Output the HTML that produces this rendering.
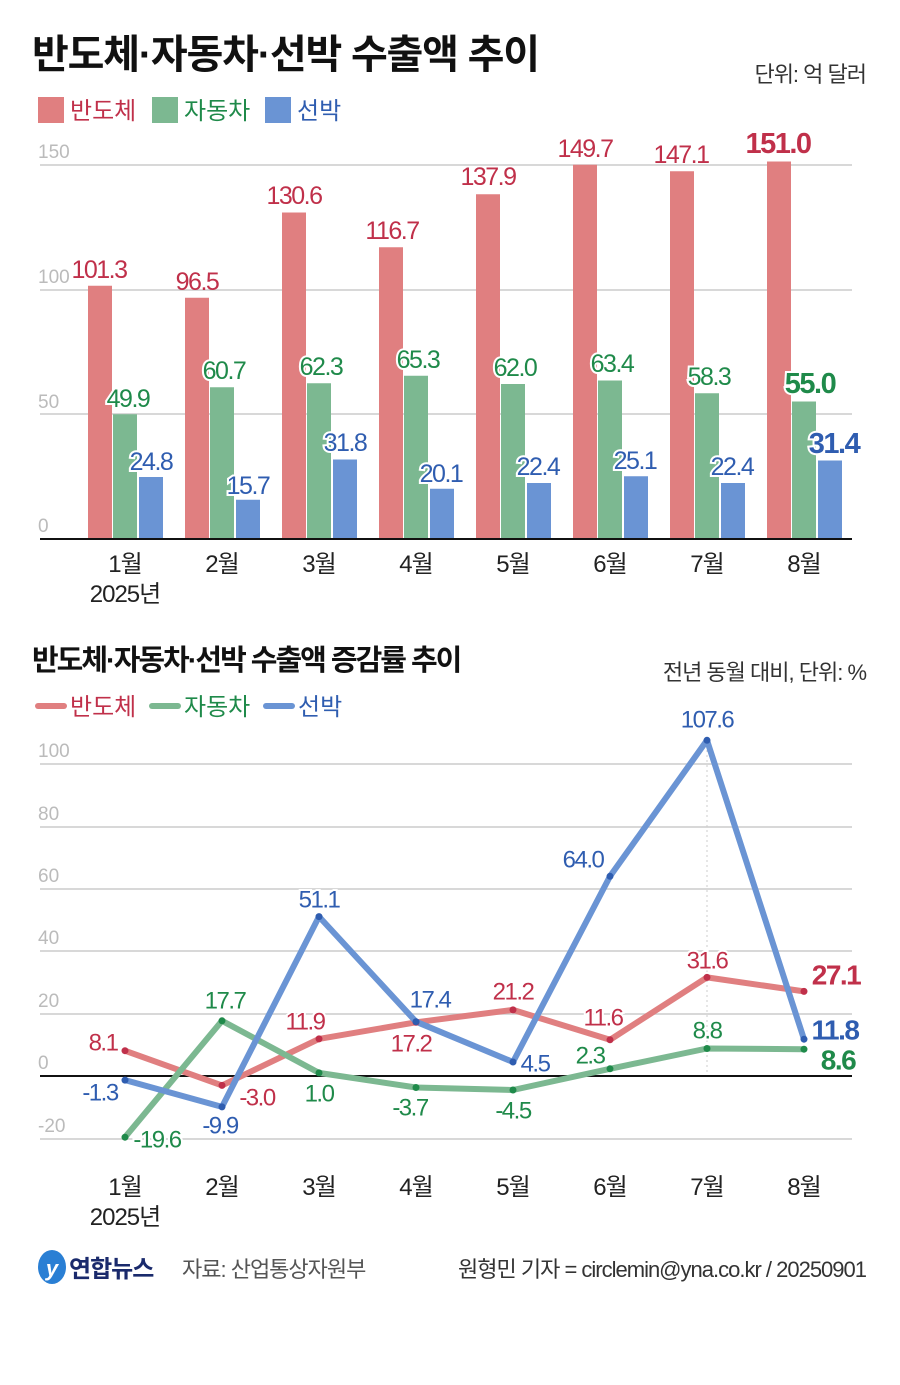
<!DOCTYPE html>
<html><head><meta charset="utf-8"><style>
body{margin:0;background:#fff;}
svg text{font-family:"Liberation Sans","Noto Sans CJK KR",sans-serif;}
</style></head><body>
<svg width="900" height="1380" viewBox="0 0 900 1380" xmlns="http://www.w3.org/2000/svg">
<text x="32" y="68" font-size="40" font-weight="bold" fill="#111" letter-spacing="-1.2">반도체·자동차·선박 수출액 추이</text>
<text x="866" y="82" font-size="22" fill="#333" text-anchor="end" letter-spacing="-1">단위: 억 달러</text>
<rect x="38" y="97" width="26" height="26" fill="#e07f80"/><text x="70" y="119" font-size="24" fill="#c0304a">반도체</text>
<rect x="152" y="97" width="26" height="26" fill="#7cb891"/><text x="184" y="119" font-size="24" fill="#1f8a4a">자동차</text>
<rect x="265" y="97" width="26" height="26" fill="#6a94d4"/><text x="297" y="119" font-size="24" fill="#2f5db0">선박</text>
<g stroke="#ccc" stroke-width="1.5"><line x1="40" y1="165" x2="852" y2="165"/><line x1="40" y1="290" x2="852" y2="290"/><line x1="40" y1="414" x2="852" y2="414"/></g>
<g font-size="19" fill="#bbb"><text x="38" y="158">150</text><text x="38" y="283">100</text><text x="38" y="408">50</text><text x="38" y="532">0</text></g>
<g fill="#e07f80"><rect x="88" y="285.75" width="24" height="253.25"/><rect x="185" y="297.75" width="24" height="241.25"/><rect x="282" y="212.5" width="24" height="326.5"/><rect x="379" y="247.25" width="24" height="291.75"/><rect x="476" y="194.25" width="24" height="344.75"/><rect x="573" y="164.75" width="24" height="374.25"/><rect x="670" y="171.25" width="24" height="367.75"/><rect x="767" y="161.5" width="24" height="377.5"/></g>
<g fill="#7cb891"><rect x="113" y="414.25" width="24" height="124.75"/><rect x="210" y="387.25" width="24" height="151.75"/><rect x="307" y="383.25" width="24" height="155.75"/><rect x="404" y="375.75" width="24" height="163.25"/><rect x="501" y="384" width="24" height="155"/><rect x="598" y="380.5" width="24" height="158.5"/><rect x="695" y="393.25" width="24" height="145.75"/><rect x="792" y="401.5" width="24" height="137.5"/></g>
<g fill="#6a94d4"><rect x="139" y="477" width="24" height="62"/><rect x="236" y="499.75" width="24" height="39.25"/><rect x="333" y="459.5" width="24" height="79.5"/><rect x="430" y="488.75" width="24" height="50.25"/><rect x="527" y="483" width="24" height="56"/><rect x="624" y="476.25" width="24" height="62.75"/><rect x="721" y="483" width="24" height="56"/><rect x="818" y="460.5" width="24" height="78.5"/></g>
<line x1="40" y1="539" x2="852" y2="539" stroke="#111" stroke-width="2"/>
<g font-size="25" text-anchor="middle" letter-spacing="-1.5" dominant-baseline="central">
<g fill="#c0304a"><text x="99" y="270">101.3</text><text x="197" y="282">96.5</text><text x="294" y="196">130.6</text><text x="392" y="231">116.7</text><text x="488" y="177">137.9</text><text x="585" y="149">149.7</text><text x="681" y="155">147.1</text><text x="778" y="144" font-weight="bold" font-size="29">151.0</text></g>
<g fill="#1f8a4a" stroke="#fff" stroke-width="4" paint-order="stroke"><text x="128" y="399">49.9</text><text x="224" y="371">60.7</text><text x="321" y="367">62.3</text><text x="418" y="360">65.3</text><text x="515" y="368">62.0</text><text x="612" y="364">63.4</text><text x="709" y="377">58.3</text><text x="810" y="384" font-weight="bold" font-size="29">55.0</text></g>
<g fill="#2f5db0" stroke="#fff" stroke-width="4" paint-order="stroke"><text x="151" y="462">24.8</text><text x="248" y="486">15.7</text><text x="345" y="443">31.8</text><text x="441" y="474">20.1</text><text x="538" y="467">22.4</text><text x="635" y="461">25.1</text><text x="732" y="467">22.4</text><text x="834" y="444" font-weight="bold" font-size="29">31.4</text></g>
</g>
<g font-size="24" fill="#222" text-anchor="middle" letter-spacing="-1"><text x="125" y="572">1월</text><text x="125" y="602">2025년</text><text x="222" y="572">2월</text><text x="319" y="572">3월</text><text x="416" y="572">4월</text><text x="513" y="572">5월</text><text x="610" y="572">6월</text><text x="707" y="572">7월</text><text x="804" y="572">8월</text></g>

<text x="32" y="670" font-size="29" font-weight="bold" fill="#111" letter-spacing="-2">반도체·자동차·선박 수출액 증감률 추이</text>
<text x="866" y="680" font-size="22" fill="#333" text-anchor="end" letter-spacing="-1">전년 동월 대비, 단위: %</text>
<g stroke-width="6" stroke-linecap="round"><line x1="38" y1="706" x2="64" y2="706" stroke="#e07f80"/><line x1="152" y1="706" x2="178" y2="706" stroke="#7cb891"/><line x1="266" y1="706" x2="292" y2="706" stroke="#6a94d4"/></g>
<text x="70" y="715" font-size="24" fill="#c0304a">반도체</text><text x="184" y="715" font-size="24" fill="#1f8a4a">자동차</text><text x="298" y="715" font-size="24" fill="#2f5db0">선박</text>
<g stroke="#ccc" stroke-width="1.5"><line x1="40" y1="764" x2="852" y2="764"/><line x1="40" y1="827" x2="852" y2="827"/><line x1="40" y1="889" x2="852" y2="889"/><line x1="40" y1="951" x2="852" y2="951"/><line x1="40" y1="1014" x2="852" y2="1014"/><line x1="40" y1="1139" x2="852" y2="1139"/></g>
<g stroke="#ccc" stroke-width="1" stroke-dasharray="2,3"><line x1="707" y1="740" x2="707" y2="1076"/></g>
<g font-size="19" fill="#bbb"><text x="38" y="757">100</text><text x="38" y="820">80</text><text x="38" y="882">60</text><text x="38" y="944">40</text><text x="38" y="1007">20</text><text x="38" y="1069">0</text><text x="38" y="1132">-20</text></g>
<line x1="40" y1="1076" x2="852" y2="1076" stroke="#111" stroke-width="2"/>
<g fill="none" stroke-width="6" stroke-linejoin="round" stroke-linecap="round">
<polyline stroke="#e07f80" points="125,1050.7 222,1085.4 319,1038.9 416,1022.3 513,1009.9 610,1039.8 707,977.4 804,991.4"/>
<polyline stroke="#7cb891" points="125,1137.2 222,1020.8 319,1072.9 416,1087.5 513,1090 610,1068.8 707,1048.5 804,1049.2"/>
<polyline stroke="#6a94d4" points="125,1080.1 222,1106.9 319,916.6 416,1021.7 513,1062 610,876.3 707,740.3 804,1039.2"/>
</g>
<g fill="#c0304a"><circle cx="125" cy="1050.7" r="3.5"/><circle cx="222" cy="1085.4" r="3.5"/><circle cx="319" cy="1038.9" r="3.5"/><circle cx="416" cy="1022.3" r="3.5"/><circle cx="513" cy="1009.9" r="3.5"/><circle cx="610" cy="1039.8" r="3.5"/><circle cx="707" cy="977.4" r="3.5"/><circle cx="804" cy="991.4" r="3.5"/></g>
<g fill="#1f8a4a"><circle cx="125" cy="1137.2" r="3.5"/><circle cx="222" cy="1020.8" r="3.5"/><circle cx="319" cy="1072.9" r="3.5"/><circle cx="416" cy="1087.5" r="3.5"/><circle cx="513" cy="1090" r="3.5"/><circle cx="610" cy="1068.8" r="3.5"/><circle cx="707" cy="1048.5" r="3.5"/><circle cx="804" cy="1049.2" r="3.5"/></g>
<g fill="#2f5db0"><circle cx="125" cy="1080.1" r="3.5"/><circle cx="222" cy="1106.9" r="3.5"/><circle cx="319" cy="916.6" r="3.5"/><circle cx="416" cy="1021.7" r="3.5"/><circle cx="513" cy="1062" r="3.5"/><circle cx="610" cy="876.3" r="3.5"/><circle cx="707" cy="740.3" r="3.5"/><circle cx="804" cy="1039.2" r="3.5"/></g>
<g font-size="24" text-anchor="middle" letter-spacing="-1.5" dominant-baseline="central" stroke="#fff" stroke-width="4" paint-order="stroke">
<g fill="#c0304a"><text x="103" y="1043">8.1</text><text x="257" y="1098">-3.0</text><text x="305" y="1022">11.9</text><text x="411" y="1044">17.2</text><text x="513" y="992">21.2</text><text x="603" y="1018">11.6</text><text x="707" y="961">31.6</text><text x="836" y="975" font-weight="bold" font-size="28">27.1</text></g>
<g fill="#1f8a4a"><text x="157" y="1140">-19.6</text><text x="225" y="1001">17.7</text><text x="319" y="1094">1.0</text><text x="410" y="1108">-3.7</text><text x="513" y="1111">-4.5</text><text x="590" y="1056">2.3</text><text x="707" y="1031">8.8</text><text x="838" y="1060" font-weight="bold" font-size="28">8.6</text></g>
<g fill="#2f5db0"><text x="100" y="1093">-1.3</text><text x="220" y="1126">-9.9</text><text x="319" y="900">51.1</text><text x="430" y="1000">17.4</text><text x="535" y="1064">4.5</text><text x="583" y="860">64.0</text><text x="707" y="720">107.6</text><text x="835" y="1030" font-weight="bold" font-size="28">11.8</text></g>
</g>
<g font-size="24" fill="#222" text-anchor="middle" letter-spacing="-1"><text x="125" y="1195">1월</text><text x="125" y="1225">2025년</text><text x="222" y="1195">2월</text><text x="319" y="1195">3월</text><text x="416" y="1195">4월</text><text x="513" y="1195">5월</text><text x="610" y="1195">6월</text><text x="707" y="1195">7월</text><text x="804" y="1195">8월</text></g>

<ellipse cx="52" cy="1267" rx="14" ry="17" fill="#2a7fd4"/><text x="52" y="1276" font-size="22" fill="#fff" text-anchor="middle" font-style="italic" font-weight="bold">y</text>
<text x="69" y="1277" font-size="24" font-weight="bold" fill="#1a2a6c" letter-spacing="-1">연합뉴스</text>
<text x="182" y="1277" font-size="22" fill="#555" letter-spacing="-1">자료: 산업통상자원부</text>
<text x="866" y="1277" font-size="22" fill="#333" text-anchor="end" letter-spacing="-1">원형민 기자 = circlemin@yna.co.kr / 20250901</text>
</svg>
</body></html>
